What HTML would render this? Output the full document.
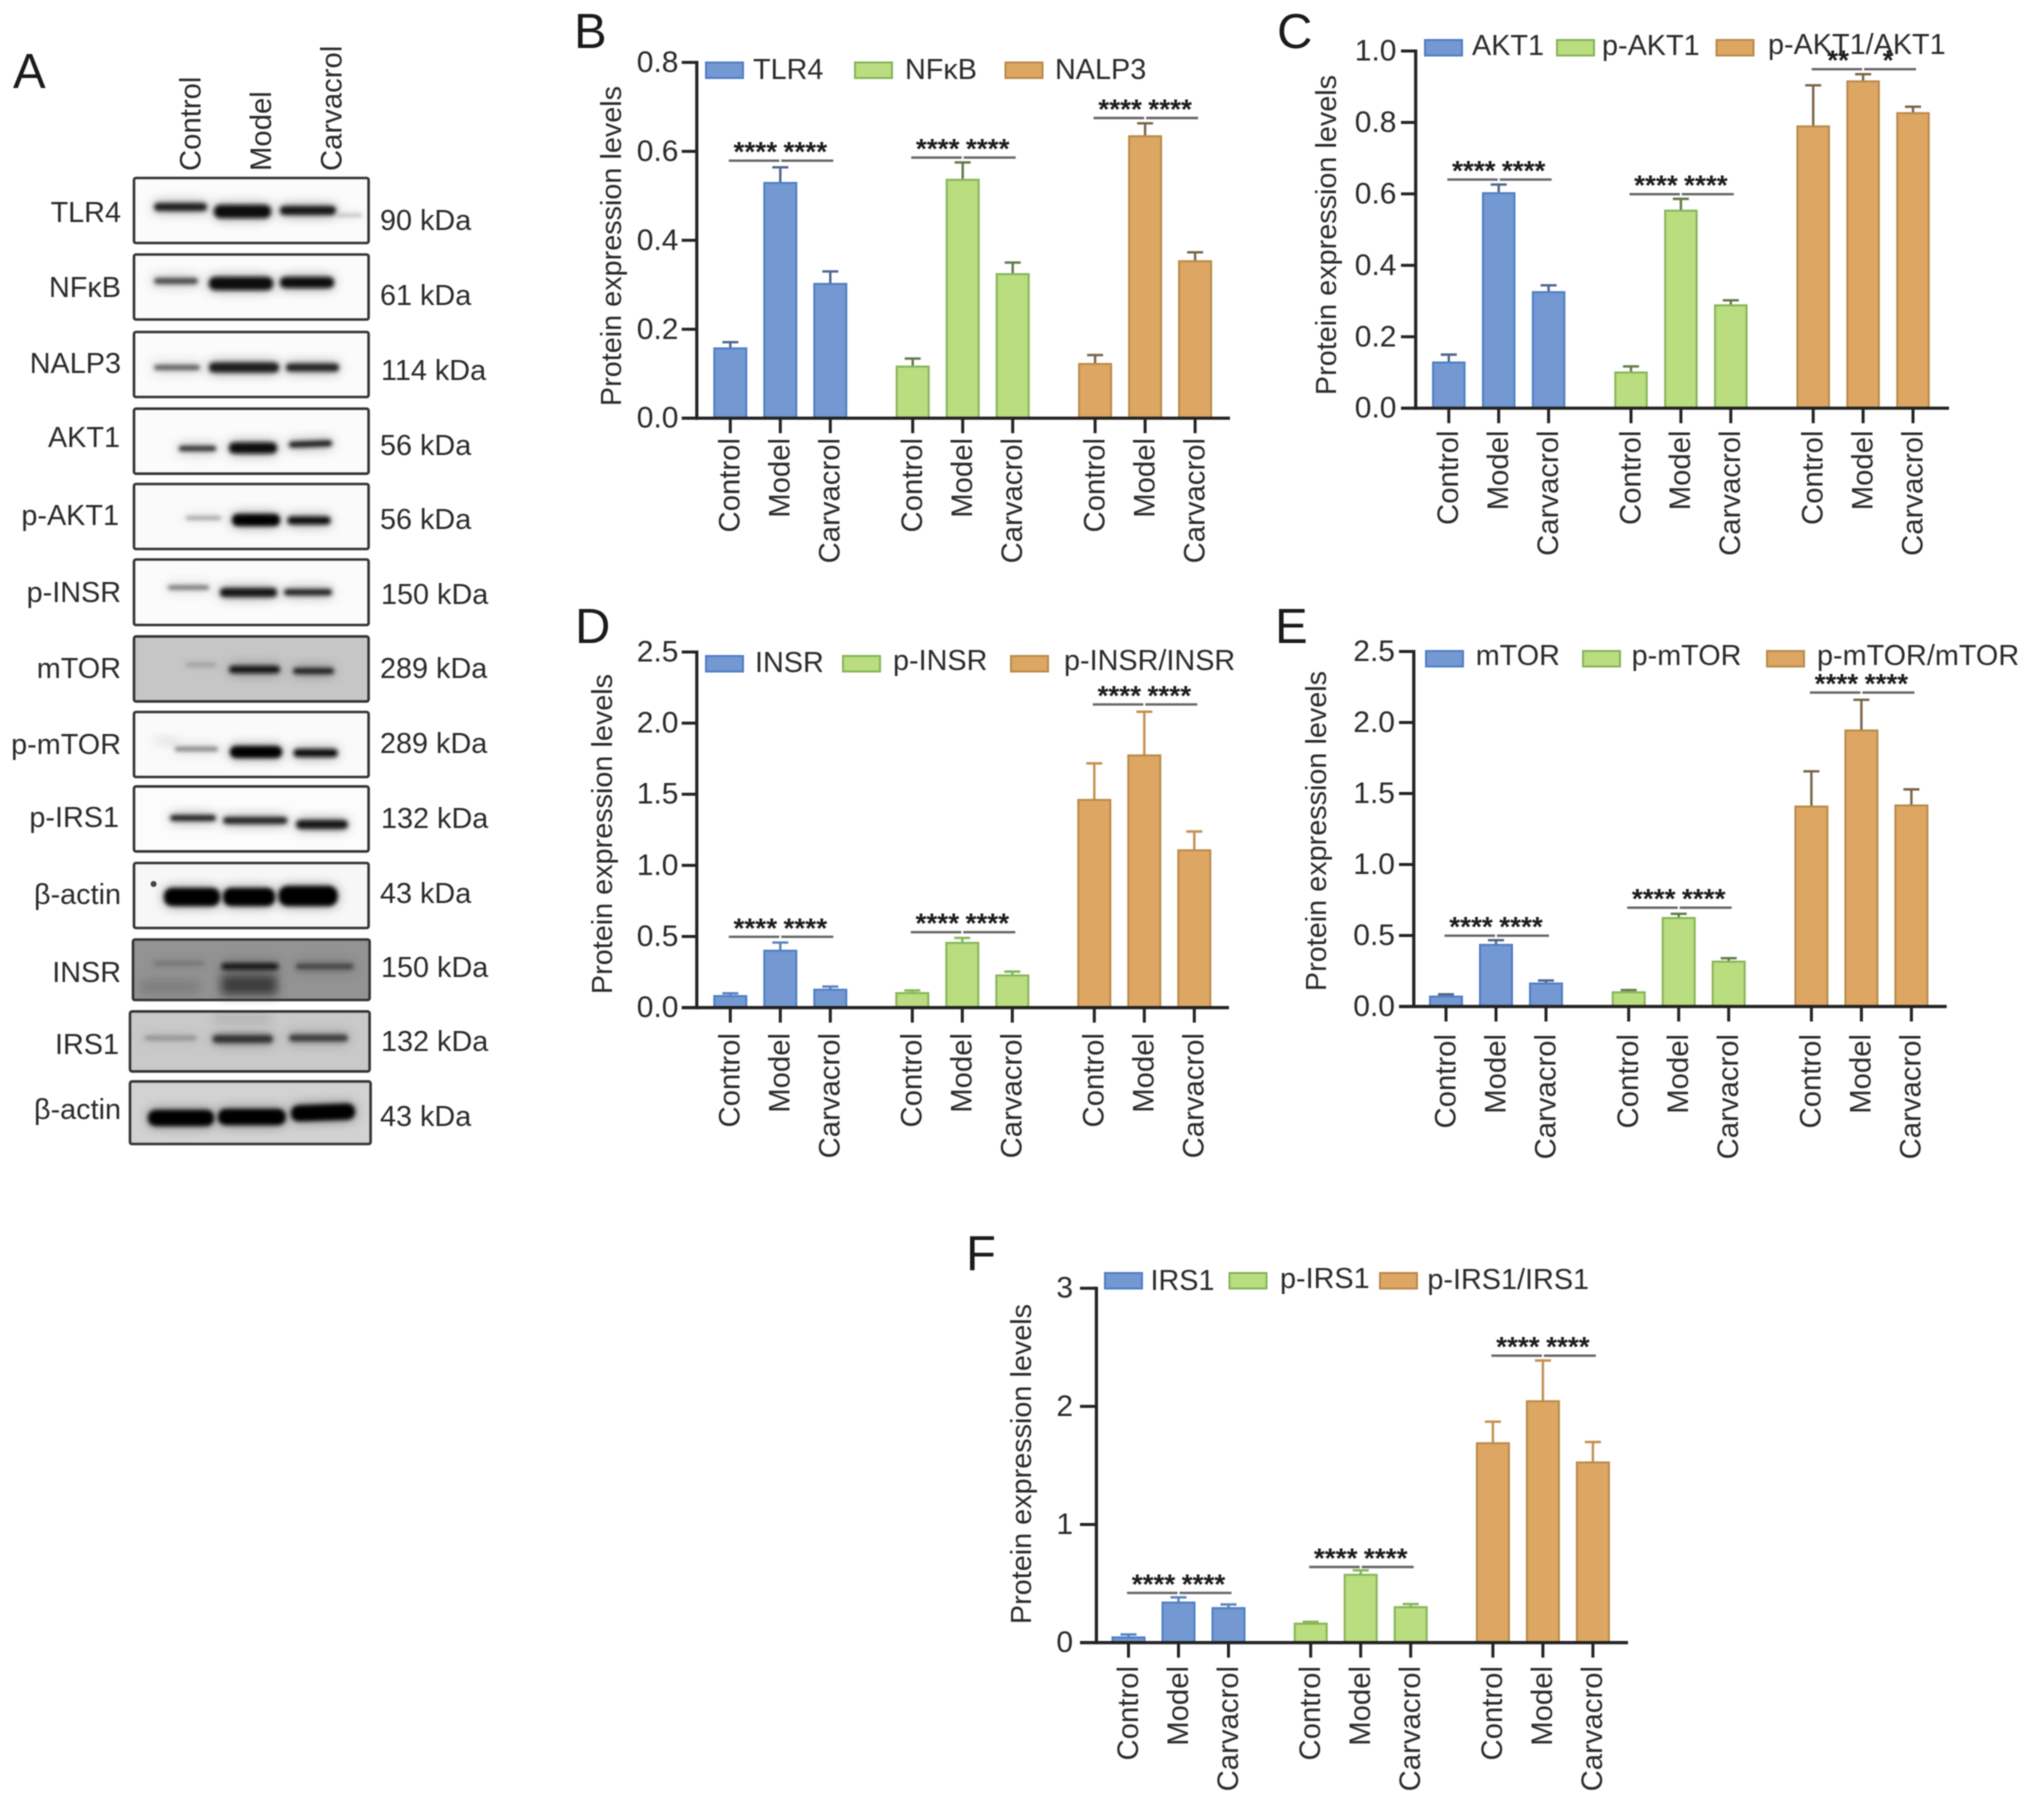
<!DOCTYPE html>
<html lang="en">
<head>
<meta charset="utf-8">
<title>Protein expression figure</title>
<style>
  html, body { margin: 0; padding: 0; background: #fff; }
  svg { display: block; font-family: "Liberation Sans", "Noto Sans CJK SC", sans-serif; filter: blur(0.55px); }
  .lbl { font-size: 28.8px; fill: #2a2a2a; }
  .ytick { font-size: 30px; fill: #2a2a2a; }
  .xtick { font-size: 29.3px; fill: #2a2a2a; }
  .letter { font-size: 49px; fill: #1a1a1a; }
  .frame { fill: none; stroke: #333; stroke-width: 2.6; }
</style>
</head>
<body>
<svg id="figure" xmlns="http://www.w3.org/2000/svg" width="2032" height="1801" viewBox="0 0 2032 1801">
  <defs>
    <filter id="band" x="-30%" y="-300%" width="160%" height="700%">
      <feGaussianBlur in="SourceGraphic" stdDeviation="2.1" result="a"/>
      <feGaussianBlur in="SourceGraphic" stdDeviation="6" result="b"/>
      <feComponentTransfer in="b" result="c"><feFuncA type="linear" slope="0.5"/></feComponentTransfer>
      <feMerge><feMergeNode in="c"/><feMergeNode in="a"/></feMerge>
    </filter>
    <filter id="smear" x="-30%" y="-100%" width="160%" height="300%"><feGaussianBlur stdDeviation="5"/></filter>
  </defs>
  <rect x="0" y="0" width="2032" height="1801" fill="#fff"/>

  <g id="panel-a">
    <text class="letter" x="13" y="88">A</text>
    <text class="xtick" transform="translate(190,171) rotate(-90)" text-anchor="start" dy=".35em">Control</text>
    <text class="xtick" transform="translate(260.7,171) rotate(-90)" dy=".35em">Model</text>
    <text class="xtick" transform="translate(331.4,171) rotate(-90)" dy=".35em">Carvacrol</text>

    <g>
      <rect x="134" y="178" width="234.6" height="65" fill="#fbfbfb"/>
      <rect x="154" y="203" width="53" height="8" rx="4" fill="#1a1a1a" filter="url(#band)"/>
      <rect x="214" y="205" width="57" height="13" rx="6" fill="#111" filter="url(#band)"/>
      <rect x="280" y="206" width="56" height="9" rx="4" fill="#151515" filter="url(#band)"/>
      <rect x="336" y="214" width="26" height="2.5" rx="1" fill="#aaa" filter="url(#band)"/>
      <rect class="frame" x="134" y="178" width="234.6" height="65" rx="2"/>
    </g>
    <g>
      <rect x="134" y="254.5" width="234.6" height="65" fill="#fbfbfb"/>
      <rect x="154" y="278" width="44" height="6" rx="3" fill="#444" filter="url(#band)"/>
      <rect x="209" y="277" width="64" height="13" rx="6" fill="#111" filter="url(#band)"/>
      <rect x="280" y="277" width="54" height="11" rx="5" fill="#0c0c0c" filter="url(#band)"/>
      <rect class="frame" x="134" y="254.5" width="234.6" height="65" rx="2"/>
    </g>
    <g>
      <rect x="134" y="332" width="234.6" height="65" fill="#fbfbfb"/>
      <rect x="154" y="365" width="46" height="5" rx="2.5" fill="#555" filter="url(#band)"/>
      <rect x="209" y="362.5" width="70" height="10" rx="4.5" fill="#1a1a1a" filter="url(#band)"/>
      <rect x="286" y="363.5" width="53" height="8" rx="3.5" fill="#222" filter="url(#band)"/>
      <rect class="frame" x="134" y="332" width="234.6" height="65" rx="2"/>
    </g>
    <g>
      <rect x="134" y="408.7" width="234.6" height="65" fill="#fbfbfb"/>
      <rect x="179" y="446" width="37" height="5" rx="2" fill="#222" filter="url(#band)"/>
      <rect x="229" y="442.5" width="48" height="11" rx="5" fill="#0a0a0a" filter="url(#band)"/>
      <rect x="289" y="441" width="43" height="6" rx="2.5" fill="#151515" filter="url(#band)" transform="rotate(-2 310 444)"/>
      <rect class="frame" x="134" y="408.7" width="234.6" height="65" rx="2"/>
    </g>
    <g>
      <rect x="134" y="484" width="234.6" height="65" fill="#fafafa"/>
      <rect x="186" y="516.5" width="35" height="3" rx="1" fill="#888" filter="url(#band)"/>
      <rect x="232" y="514" width="48" height="12" rx="5.5" fill="#050505" filter="url(#band)"/>
      <rect x="287.5" y="516.5" width="43" height="8" rx="3.5" fill="#0c0c0c" filter="url(#band)"/>
      <rect class="frame" x="134" y="484" width="234.6" height="65" rx="2"/>
    </g>
    <g>
      <rect x="134" y="559.5" width="234.6" height="65.5" fill="#fbfbfb"/>
      <rect x="168" y="585.5" width="41" height="4" rx="1.5" fill="#666" filter="url(#band)"/>
      <rect x="220" y="588" width="57" height="9" rx="4" fill="#151515" filter="url(#band)"/>
      <rect x="284" y="589" width="48" height="6.5" rx="3" fill="#222" filter="url(#band)"/>
      <rect class="frame" x="134" y="559.5" width="234.6" height="65.5" rx="2"/>
    </g>
    <g>
      <rect x="134" y="636.4" width="234.6" height="65" fill="#c6c6c6"/>
      <rect x="186" y="663.5" width="30" height="2.5" rx="1" fill="#8a8a8a" filter="url(#band)"/>
      <rect x="229" y="666" width="51" height="7" rx="3.5" fill="#111" filter="url(#band)"/>
      <rect x="293" y="668" width="41" height="6" rx="3" fill="#1a1a1a" filter="url(#band)"/>
      <rect class="frame" x="134" y="636.4" width="234.6" height="65" rx="2"/>
    </g>
    <g>
      <rect x="134" y="712" width="234.6" height="65" fill="#fafafa"/>
      <rect x="154" y="738" width="25" height="6" fill="#ddd" filter="url(#smear)"/>
      <rect x="175" y="747" width="43" height="4" rx="1.5" fill="#777" filter="url(#band)"/>
      <rect x="230" y="746" width="52" height="12" rx="5.5" fill="#050505" filter="url(#band)"/>
      <rect x="293.6" y="749" width="44" height="8" rx="3.5" fill="#0c0c0c" filter="url(#band)"/>
      <rect class="frame" x="134" y="712" width="234.6" height="65" rx="2"/>
    </g>
    <g>
      <rect x="134" y="786.4" width="234.6" height="65" fill="#fcfcfc"/>
      <rect x="170" y="815" width="46" height="6" rx="3" fill="#1c1c1c" filter="url(#band)"/>
      <rect x="223" y="817" width="64.5" height="7" rx="3.5" fill="#222" filter="url(#band)"/>
      <rect x="296" y="820" width="52" height="9" rx="4.5" fill="#151515" filter="url(#band)"/>
      <rect class="frame" x="134" y="786.4" width="234.6" height="65" rx="2"/>
    </g>
    <g>
      <rect x="134" y="863" width="234.6" height="65" fill="#f7f7f7"/>
      <circle cx="153.6" cy="884" r="3" fill="#444"/>
      <rect x="164" y="888" width="56" height="18" rx="8" fill="#050505" filter="url(#band)"/>
      <rect x="223" y="888" width="52" height="18" rx="8" fill="#050505" filter="url(#band)"/>
      <rect x="278.6" y="886" width="59" height="20" rx="9" fill="#050505" filter="url(#band)"/>
      <rect class="frame" x="134" y="863" width="234.6" height="65" rx="2"/>
    </g>
    <g>
      <rect x="133" y="939.5" width="236.6" height="60.5" fill="#939393"/>
      <rect x="221" y="975" width="56" height="20" fill="#3a3a3a" filter="url(#smear)"/>
      <rect x="140" y="980" width="60" height="14" fill="#7e7e7e" filter="url(#smear)"/>
      <rect x="154" y="962" width="50" height="3" rx="1.5" fill="#6a6a6a" filter="url(#band)"/>
      <rect x="221.4" y="963.5" width="57" height="6" rx="3" fill="#0c0c0c" filter="url(#band)"/>
      <rect x="296" y="964" width="57.6" height="5" rx="2.5" fill="#3c3c3c" filter="url(#band)"/>
      <rect class="frame" x="133" y="939.5" width="236.6" height="60.5" rx="2"/>
    </g>
    <g>
      <rect x="130" y="1011.4" width="239.6" height="60" fill="#c9c9c9"/>
      <rect x="213" y="1016" width="58" height="5" fill="#a0a0a0" filter="url(#smear)"/>
      <rect x="144.6" y="1036" width="52" height="4" rx="2" fill="#8a8a8a" filter="url(#band)"/>
      <rect x="212.5" y="1035" width="60.5" height="8" rx="4" fill="#333" filter="url(#band)"/>
      <rect x="289" y="1034.5" width="59" height="7" rx="3.5" fill="#3a3a3a" filter="url(#band)"/>
      <rect class="frame" x="130" y="1011.4" width="239.6" height="60" rx="2"/>
    </g>
    <g>
      <rect x="130" y="1081.4" width="240.6" height="62.6" fill="#d2d2d2"/>
      <rect x="148" y="1110" width="66" height="16" rx="7.5" fill="#030303" filter="url(#band)"/>
      <rect x="218" y="1109" width="67.7" height="16" rx="7.5" fill="#030303" filter="url(#band)"/>
      <rect x="291" y="1104.5" width="64" height="16" rx="7.5" fill="#030303" filter="url(#band)" transform="rotate(-2 323 1112)"/>
      <rect class="frame" x="130" y="1081.4" width="240.6" height="62.6" rx="2"/>
    </g>

    <g text-anchor="end" dominant-baseline="central">
      <text class="lbl" x="121" y="213">TLR4</text>
      <text class="lbl" x="121" y="288">NFκB</text>
      <text class="lbl" x="121" y="364">NALP3</text>
      <text class="lbl" x="120" y="438">AKT1</text>
      <text class="lbl" x="119" y="516">p-AKT1</text>
      <text class="lbl" x="121" y="593">p-INSR</text>
      <text class="lbl" x="121" y="669">mTOR</text>
      <text class="lbl" x="121" y="745">p-mTOR</text>
      <text class="lbl" x="119" y="818">p-IRS1</text>
      <text class="lbl" x="121" y="895">β-actin</text>
      <text class="lbl" x="121" y="973">INSR</text>
      <text class="lbl" x="119" y="1045">IRS1</text>
      <text class="lbl" x="121" y="1110">β-actin</text>
    </g>
    <g dominant-baseline="central">
      <text class="lbl" x="380" y="221">90 kDa</text>
      <text class="lbl" x="380" y="296">61 kDa</text>
      <text class="lbl" x="381" y="371">114 kDa</text>
      <text class="lbl" x="380" y="446">56 kDa</text>
      <text class="lbl" x="380" y="520">56 kDa</text>
      <text class="lbl" x="381" y="595">150 kDa</text>
      <text class="lbl" x="380" y="669">289 kDa</text>
      <text class="lbl" x="380" y="744">289 kDa</text>
      <text class="lbl" x="381" y="819">132 kDa</text>
      <text class="lbl" x="380" y="894">43 kDa</text>
      <text class="lbl" x="381" y="968">150 kDa</text>
      <text class="lbl" x="381" y="1042">132 kDa</text>
      <text class="lbl" x="380" y="1117">43 kDa</text>
    </g>
  </g>
  <g id="charts"></g>
</svg>

<script>
// ---- shared categories ----
const categories = ['Control', 'Model', 'Carvacrol'];
const seriesFill = ['#7398d2', '#b9dd7f', '#dda763'];
const seriesStroke = ['#4f7fc4', '#85b558', '#b98a4a'];
const yTitle = 'Protein expression levels';

// ---- panel B ----
const bTicks = ['0.0', '0.2', '0.4', '0.6', '0.8'];
const bSeries = ['TLR4', 'NFκB', 'NALP3'];
const bS1 = [0.157, 0.529, 0.302];
const bS1Top = [0.171, 0.564, 0.330];
const bS2 = [0.116, 0.536, 0.324];
const bS2Top = [0.134, 0.575, 0.350];
const bS3 = [0.122, 0.634, 0.353];
const bS3Top = [0.142, 0.663, 0.373];
const bBrackets = [0.579, 0.586, 0.675];
const bStars = [['****', '****'], ['****', '****'], ['****', '****']];

// ---- panel C ----
const cTicks = ['0.0', '0.2', '0.4', '0.6', '0.8', '1.0'];
const cSeries = ['AKT1', 'p-AKT1', 'p-AKT1/AKT1'];
const cS1 = [0.128, 0.602, 0.325];
const cS1Top = [0.150, 0.626, 0.344];
const cS2 = [0.100, 0.553, 0.288];
const cS2Top = [0.117, 0.586, 0.302];
const cS3 = [0.789, 0.915, 0.826];
const cS3Top = [0.904, 0.935, 0.844];
const cBrackets = [0.640, 0.599, 0.949];
const cStars = [['****', '****'], ['****', '****'], ['**', '*']];

// ---- panel D ----
const dTicks = ['0.0', '0.5', '1.0', '1.5', '2.0', '2.5'];
const dSeries = ['INSR', 'p-INSR', 'p-INSR/INSR'];
const dS1 = [0.081, 0.400, 0.126];
const dS1Top = [0.100, 0.457, 0.148];
const dS2 = [0.102, 0.455, 0.226];
const dS2Top = [0.121, 0.490, 0.253];
const dS3 = [1.460, 1.773, 1.106];
const dS3Top = [1.717, 2.080, 1.238];
const dBrackets = [0.498, 0.530, 2.131];
const dStars = [['****', '****'], ['****', '****'], ['****', '****']];

// ---- panel E ----
const eTicks = ['0.0', '0.5', '1.0', '1.5', '2.0', '2.5'];
const eSeries = ['mTOR', 'p-mTOR', 'p-mTOR/mTOR'];
const eS1 = [0.070, 0.434, 0.162];
const eS1Top = [0.086, 0.467, 0.183];
const eS2 = [0.100, 0.623, 0.316];
const eS2Top = [0.116, 0.653, 0.340];
const eS3 = [1.408, 1.944, 1.416];
const eS3Top = [1.656, 2.160, 1.529];
const eBrackets = [0.499, 0.696, 2.211];
const eStars = [['****', '****'], ['****', '****'], ['****', '****']];

// ---- panel F ----
const fTicks = ['0', '1', '2', '3'];
const fSeries = ['IRS1', 'p-IRS1', 'p-IRS1/IRS1'];
const fS1 = [0.044, 0.339, 0.292];
const fS1Top = [0.069, 0.383, 0.323];
const fS2 = [0.160, 0.574, 0.300];
const fS2Top = [0.176, 0.612, 0.326];
const fS3 = [1.688, 2.043, 1.525];
const fS3Top = [1.870, 2.388, 1.698];
const fBrackets = [0.420, 0.640, 2.429];
const fStars = [['****', '****'], ['****', '****'], ['****', '****']];

const SVG_NS = 'http://www.w3.org/2000/svg';
const chartsRoot = document.getElementById('charts');

function el(parent, tag, attrs, text) {
  const node = document.createElementNS(SVG_NS, tag);
  for (const k in attrs) node.setAttribute(k, attrs[k]);
  if (text !== undefined) node.textContent = text;
  parent.appendChild(node);
  return node;
}

function drawPanel(id, layout, ticks, seriesNames, values, tops, brackets, stars) {
  const maxTick = parseFloat(ticks[ticks.length - 1]);
  const yScale = v => layout.y0 - (v / maxTick) * (layout.y0 - layout.yTop);
  const xScale = (g, b) => layout.x0 + g * layout.groupStep + b * layout.barStep;
  const barW = layout.barW;

  const panel = el(chartsRoot, 'g', {});
  
  

  const letter = el(panel, 'text', { class: 'letter', x: layout.letterX, y: layout.letterY }, id.toUpperCase());
  
  

  const title = el(panel, 'text', {
    class: 'lbl', 'text-anchor': 'middle', dy: '.35em',
    transform: 'translate(' + layout.titleX + ',' + layout.titleY + ') rotate(-90)'
  }, yTitle);
  
  

  // bars and error bars
  values.forEach((vals, g) => {
    vals.forEach((v, b) => {
      const cx = xScale(g, b);
      const top = yScale(tops[g][b]);
      const errColor = layout.errColors[g];

      const stem = el(panel, 'line', { x1: cx, x2: cx, y1: yScale(v), y2: top, stroke: errColor, 'stroke-width': 2.4 });
      
      

      const cap = el(panel, 'line', { x1: cx - 8, x2: cx + 8, y1: top, y2: top, stroke: errColor, 'stroke-width': 2.4 });
      
      

      const bar = el(panel, 'rect', {
        x: cx - barW / 2, y: yScale(v), width: barW, height: layout.y0 - yScale(v),
        fill: seriesFill[g], stroke: seriesStroke[g], 'stroke-width': 2
      });
      
      
    });
  });

  // y axis
  const yAxis = el(panel, 'line', { x1: layout.axisX, x2: layout.axisX, y1: layout.yTop - 1.5, y2: layout.y0 + 1.5, stroke: '#222', 'stroke-width': 3.2 });
  
  

  ticks.forEach(t => {
    const y = yScale(parseFloat(t));
    if (parseFloat(t) !== 0) {
      const tick = el(panel, 'line', { x1: layout.axisLeft, x2: layout.axisX, y1: y, y2: y, stroke: '#222', 'stroke-width': 3 });
      
      
    }
    const label = el(panel, 'text', { class: 'ytick', x: layout.tickLabelX, y: y, 'text-anchor': 'end', 'dominant-baseline': 'central' }, t);
    
    
  });

  // x axis
  const xAxis = el(panel, 'line', { x1: layout.axisLeft, x2: layout.axisRight, y1: layout.y0, y2: layout.y0, stroke: '#222', 'stroke-width': 3.2 });
  
  

  values.forEach((vals, g) => {
    categories.forEach((c, b) => {
      const cx = xScale(g, b);
      const tick = el(panel, 'line', { x1: cx, x2: cx, y1: layout.y0, y2: layout.y0 + 15, stroke: '#222', 'stroke-width': 3 });
      
      

      const label = el(panel, 'text', {
        class: 'xtick', 'text-anchor': 'end', dy: '.35em',
        transform: 'translate(' + (cx - 1) + ',' + layout.xLabelY + ') rotate(-90)'
      }, c);
      
      
    });
  });

  // significance brackets
  brackets.forEach((level, g) => {
    const y = yScale(level);
    const left = xScale(g, 0) - 1.5;
    const mid = xScale(g, 1);
    const right = xScale(g, 2) + 3;

    const lineA = el(panel, 'line', { x1: left, x2: mid - 1, y1: y, y2: y, stroke: '#666', 'stroke-width': 2.4 });
    
    

    const lineB = el(panel, 'line', { x1: mid + 1, x2: right, y1: y, y2: y, stroke: '#666', 'stroke-width': 2.4 });
    
    

    stars[g].forEach((s, i) => {
      const sx = (xScale(g, i) + xScale(g, i + 1)) / 2;
      const star = el(panel, 'text', { x: sx, y: y + 0.5, 'text-anchor': 'middle', 'font-size': 28, 'font-weight': 'bold', fill: '#1c1c1c' }, s);
      
      
    });
  });

  // legend
  seriesNames.forEach((name, g) => {
    const entry = el(panel, 'g', {});
    
    

    const swatch = el(entry, 'rect', {
      x: layout.legendX[g], y: layout.legendY, width: 37, height: 15.5,
      fill: seriesFill[g], stroke: seriesStroke[g], 'stroke-width': 2
    });
    
    

    const text = el(entry, 'text', {
      class: 'lbl', x: layout.legendTextX[g], y: layout.legendTextY[g], 'dominant-baseline': 'central'
    }, name);
    
    
  });
}

const darkErr = ['#4d648c', '#5f7a4a', '#7a6248'];
const colorErr = ['#5a82bd', '#85b558', '#c4904f'];

drawPanel('b', {
  x0: 730.3, groupStep: 182.4, barStep: 50, barW: 32,
  axisX: 696.8, axisLeft: 681.7, axisRight: 1230, y0: 418.2, yTop: 62.4,
  tickLabelX: 678.5, xLabelY: 438, titleX: 611, titleY: 246,
  letterX: 574, letterY: 48, errColors: darkErr,
  legendX: [706, 855, 1005.5], legendY: 62.5, legendTextX: [753, 905, 1055], legendTextY: [70, 70, 70]
}, bTicks, bSeries, [bS1, bS2, bS3], [bS1Top, bS2Top, bS3Top], bBrackets, bStars);

drawPanel('c', {
  x0: 1448.8, groupStep: 182.2, barStep: 49.9, barW: 31.5,
  axisX: 1415.7, axisLeft: 1401, axisRight: 1949, y0: 408.2, yTop: 51,
  tickLabelX: 1396.5, xLabelY: 430.5, titleX: 1326, titleY: 235,
  letterX: 1277, letterY: 48, errColors: darkErr,
  legendX: [1425, 1557, 1716.5], legendY: 40, legendTextX: [1472, 1602, 1768], legendTextY: [46, 46, 45]
}, cTicks, cSeries, [cS1, cS2, cS3], [cS1Top, cS2Top, cS3Top], cBrackets, cStars);

drawPanel('d', {
  x0: 730.3, groupStep: 182, barStep: 50, barW: 32,
  axisX: 696.8, axisLeft: 681.7, axisRight: 1229, y0: 1007.6, yTop: 652,
  tickLabelX: 678.5, xLabelY: 1033, titleX: 602, titleY: 834,
  letterX: 575, letterY: 643, errColors: colorErr,
  legendX: [706, 843, 1011], legendY: 656, legendTextX: [755, 893, 1064], legendTextY: [663, 661, 661]
}, dTicks, dSeries, [dS1, dS2, dS3], [dS1Top, dS2Top, dS3Top], dBrackets, dStars);

drawPanel('e', {
  x0: 1446, groupStep: 182.7, barStep: 50, barW: 32,
  axisX: 1413.8, axisLeft: 1399, axisRight: 1946.7, y0: 1006.5, yTop: 651.5,
  tickLabelX: 1395, xLabelY: 1034, titleX: 1316, titleY: 831,
  letterX: 1275, letterY: 643, errColors: darkErr,
  legendX: [1426, 1583, 1767], legendY: 651, legendTextX: [1475.7, 1631.6, 1817], legendTextY: [656, 656, 656]
}, eTicks, eSeries, [eS1, eS2, eS3], [eS1Top, eS2Top, eS3Top], eBrackets, eStars);

drawPanel('f', {
  x0: 1128.5, groupStep: 182.2, barStep: 50, barW: 32,
  axisX: 1096.4, axisLeft: 1080, axisRight: 1628, y0: 1642.6, yTop: 1288.2,
  tickLabelX: 1073, xLabelY: 1666, titleX: 1021, titleY: 1464,
  letterX: 966, letterY: 1270, errColors: colorErr,
  legendX: [1105, 1229.5, 1380], legendY: 1273, legendTextX: [1150.5, 1280, 1427.4], legendTextY: [1281, 1279, 1280]
}, fTicks, fSeries, [fS1, fS2, fS3], [fS1Top, fS2Top, fS3Top], fBrackets, fStars);
</script>
</body>
</html>
